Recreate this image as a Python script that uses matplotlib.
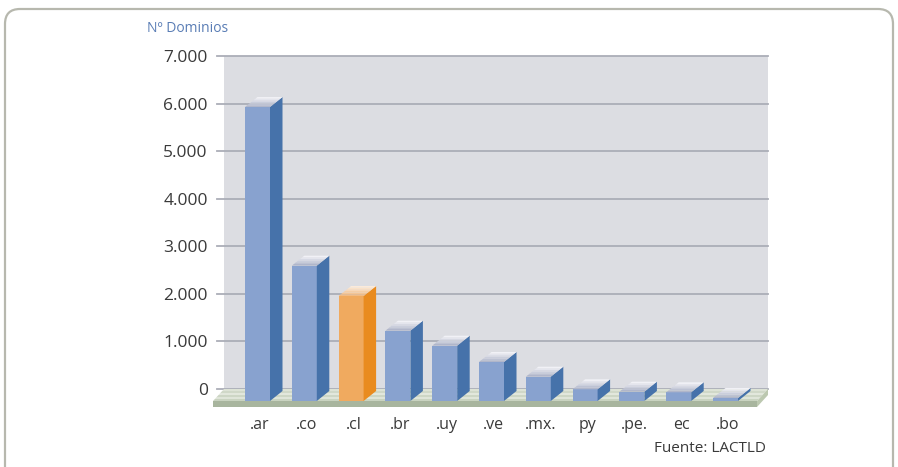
import numpy as np
import matplotlib
matplotlib.use("Agg")
import matplotlib.pyplot as plt
from matplotlib.patches import Polygon, FancyBboxPatch
from matplotlib.transforms import IdentityTransform

plt.rcParams['font.family'] = ['Open Sans', 'DejaVu Sans']

# data
dominios = ['.ar', '.co', '.cl', '.br', '.uy', '.ve', '.mx.', 'py', '.pe.', 'ec', '.bo']
valores = [6180, 2845, 2207, 1478, 1163, 820, 511, 246, 196, 183, 63]
resaltado = '.cl'
ticks = [0, 1000, 2000, 3000, 4000, 5000, 6000, 7000]
tick_labels = ['0', '1.000', '2.000', '3.000', '4.000', '5.000', '6.000', '7.000']

W, H = 898, 467
# pixel geometry of the reference
x0_px, step_px = 257.5, 46.8      # centre of first bar front, spacing
y0_px, ppv = 401.0, 0.04757       # front baseline, pixels per unit value
L, R, T, B = 212, 780, 40, 412

def px2x(p):
    return (p - x0_px) / step_px

def dy2v(p):
    return p / ppv

fig = plt.figure(figsize=(W / 100, H / 100), dpi=100)
ax = fig.add_axes([L / W, 1 - B / H, (R - L) / W, (B - T) / H])
ax.set_xlim(px2x(L), px2x(R))
ax.set_ylim(dy2v(y0_px - B), dy2v(y0_px - T))
for s in ax.spines.values():
    s.set_visible(False)

# 3d offsets
wall_dx, wall_dy = 11 / step_px, dy2v(12)
bar_dx, bar_dy = 12.5 / step_px, dy2v(10)
half = 12.5 / step_px
floor_th = dy2v(6)

wall_l, wall_r = px2x(224), px2x(768)
floor_l, floor_r = px2x(213), px2x(757)

# back wall
ax.add_patch(Polygon([(wall_l, wall_dy), (wall_r, wall_dy), (wall_r, 7000 + wall_dy),
                      (wall_l, 7000 + wall_dy)], closed=True, fc='#dcdde2', ec='none', zorder=1))
for t in ticks:
    ax.plot([px2x(217), wall_r], [t + wall_dy, t + wall_dy], color='#abaeb7', lw=1.3, zorder=2)

# floor top with light stripes
nstr = 6
cols = ['#c9d3c0', '#dfe5d9', '#cdd6c5', '#e2e7dc', '#d0d8c8', '#dde3d6']
for k in range(nstr):
    f0, f1 = k / nstr, (k + 1) / nstr
    ax.add_patch(Polygon([(floor_l + wall_dx * f0, wall_dy * f0), (floor_r + wall_dx * f0, wall_dy * f0),
                          (floor_r + wall_dx * f1, wall_dy * f1), (floor_l + wall_dx * f1, wall_dy * f1)],
                         closed=True, fc=cols[k], ec='none', zorder=3))
# floor front and side
ax.add_patch(Polygon([(floor_l, 0), (floor_r, 0), (floor_r, -floor_th), (floor_l, -floor_th)],
                     closed=True, fc='#a8b59e', ec='none', zorder=3))
ax.add_patch(Polygon([(floor_r, 0), (floor_r + wall_dx, wall_dy), (floor_r + wall_dx, wall_dy - floor_th),
                      (floor_r, -floor_th)], closed=True, fc='#bcc8b0', ec='none', zorder=3))

def mix(c1, c2, f):
    a = np.array(matplotlib.colors.to_rgb(c1))
    b = np.array(matplotlib.colors.to_rgb(c2))
    return tuple(a + (b - a) * f)

for i, (d, v) in enumerate(zip(dominios, valores)):
    if d == resaltado:
        front, side, top0, top1 = '#f0aa5f', '#e98b1f', '#f0b67c', '#fdf0e2'
    else:
        front, side, top0, top1 = '#88a2cf', '#4672aa', '#aab0c6', '#f7f7fa'
    xl, xr = i - half, i + half
    ax.add_patch(Polygon([(xl, 0), (xr, 0), (xr, v), (xl, v)], closed=True, fc=front, ec='none', zorder=5))
    ax.add_patch(Polygon([(xr, 0), (xr + bar_dx, bar_dy), (xr + bar_dx, v + bar_dy), (xr, v)],
                         closed=True, fc=side, ec='none', zorder=5))
    n = 6
    for k in range(n):
        f0, f1 = k / n, (k + 1) / n
        ax.add_patch(Polygon([(xl + bar_dx * f0, v + bar_dy * f0), (xr + bar_dx * f0, v + bar_dy * f0),
                              (xr + bar_dx * f1, v + bar_dy * f1), (xl + bar_dx * f1, v + bar_dy * f1)],
                             closed=True, fc=mix(top0, top1, (k + 0.5) / n), ec='none', zorder=5))

ax.set_xticks(np.arange(len(dominios)) + 0.05)
ax.set_xticklabels(dominios, fontsize=11.5, color='#3a3a3a')
ax.set_yticks(np.array(ticks) + wall_dy)
ax.set_yticklabels(tick_labels, fontsize=12.5, color='#3a3a3a')
ax.tick_params(axis='both', length=0)
ax.tick_params(axis='x', pad=3.5)
ax.tick_params(axis='y', pad=3)

fig.text(147 / W, 1 - 29 / H, 'Nº Dominios', fontsize=10, color='#5a7db5', va='center', ha='left')
fig.text(766 / W, 1 - 449 / H, 'Fuente: LACTLD', fontsize=11, color='#3a3a3a', va='center', ha='right')

frame = FancyBboxPatch((5, -30), 888, H - 9 + 30, boxstyle='round,pad=0,rounding_size=15',
                       transform=IdentityTransform(), fc='none', ec='#b7b8ae', lw=1.6)
fig.patches.append(frame)

fig.savefig('out.png', dpi=100)
